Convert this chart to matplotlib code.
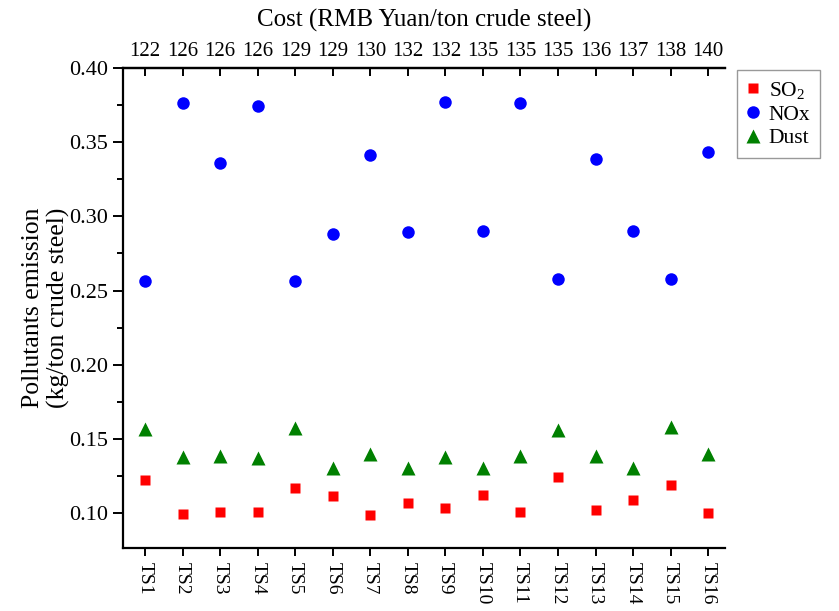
import numpy as np
import matplotlib
matplotlib.use("Agg")
import matplotlib.pyplot as plt
from matplotlib.ticker import MultipleLocator, FormatStrFormatter

plt.rcParams['font.family'] = ['Liberation Serif', 'DejaVu Serif']
plt.rcParams['mathtext.fontset'] = 'custom'
plt.rcParams['mathtext.rm'] = 'Liberation Serif'

schemes = ['TS1', 'TS2', 'TS3', 'TS4', 'TS5', 'TS6', 'TS7', 'TS8',
           'TS9', 'TS10', 'TS11', 'TS12', 'TS13', 'TS14', 'TS15', 'TS16']
cost = ['122', '126', '126', '126', '129', '129', '130', '132',
        '132', '135', '135', '135', '136', '137', '138', '140']

so2 = [0.1222, 0.0993, 0.1009, 0.1009, 0.1171, 0.1113, 0.0987, 0.1070,
       0.1032, 0.1120, 0.1009, 0.1243, 0.1020, 0.1090, 0.1189, 0.1000]
nox = [0.2567, 0.3764, 0.3360, 0.3741, 0.2567, 0.2879, 0.3411, 0.2895,
       0.3771, 0.2899, 0.3764, 0.2575, 0.3390, 0.2899, 0.2577, 0.3431]
dust = [0.1567, 0.1377, 0.1388, 0.1370, 0.1574, 0.1302, 0.1397, 0.1307,
        0.1377, 0.1302, 0.1383, 0.1563, 0.1388, 0.1305, 0.1579, 0.1397]

x = np.arange(1, len(schemes) + 1)

fig = plt.figure(figsize=(8.39, 6.11), dpi=100)
ax = fig.add_axes([0.1466, 0.1031, 0.7175, 0.7856])

ax.plot(x, so2, 's', color='#ff0000', markersize=7.5, mec='none', label='SO$_2$')
ax.plot(x, nox, 'o', color='#0000ff', markersize=9, mec='none', label='NOx')
ax.plot(x, dust, '^', color='#008000', markersize=9.5, mec='none', label='Dust')

ax.set_xlim(0.41, 16.45)
ax.set_ylim(0.0765, 0.40)

for side in ['left', 'bottom', 'top']:
    ax.spines[side].set_linewidth(1.6)
ax.spines['right'].set_visible(False)

ax.set_xticks(x)
ax.set_xticklabels(schemes, rotation=-90, fontsize=14)
ax.yaxis.set_major_locator(MultipleLocator(0.05))
ax.yaxis.set_minor_locator(MultipleLocator(0.025))
ax.yaxis.set_major_formatter(FormatStrFormatter('%.2f'))
ax.tick_params(axis='y', which='major', direction='out', length=7, width=1.4, labelsize=16, pad=4)
ax.tick_params(axis='y', which='minor', direction='out', length=4, width=1.4)
ax.tick_params(axis='x', direction='out', length=6, width=1.4, pad=4)

ax.set_ylabel('Pollutants emission\n(kg/ton crude steel)', fontsize=18.5, labelpad=-1,
              linespacing=1.15)

# cost of each scheme along the top
top = ax.secondary_xaxis('top')
top.set_xticks(x)
top.set_xticklabels(cost, fontsize=15)
top.tick_params(direction='in', length=6, width=1.4, pad=5)
top.spines['top'].set_linewidth(1.6)
top.set_xlabel('Cost (RMB Yuan/ton crude steel)', fontsize=18, labelpad=11)

leg = fig.legend(loc='upper left', bbox_to_anchor=(0.879, 0.885), fontsize=15.5,
                 frameon=True, fancybox=False, edgecolor='#808080',
                 handletextpad=0.5, borderpad=0.45, labelspacing=0.15,
                 handlelength=0.5, borderaxespad=0)
leg.get_frame().set_linewidth(1.0)

fig.savefig('out.png', dpi=100)
